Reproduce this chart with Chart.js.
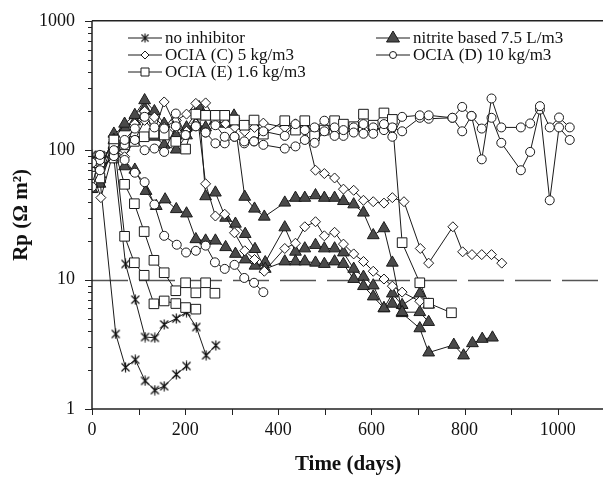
<!DOCTYPE html>
<html>
<head>
<meta charset="utf-8">
<script src="https://cdn.jsdelivr.net/npm/chart.js@4/dist/chart.umd.min.js"></script>
<style>
  html, body { margin: 0; padding: 0; overflow: hidden; background: #fff; }
</style>
</head>
<body>
<canvas id="rpchart" width="612" height="481"></canvas>
<script>
// axis ticks and the 10 ohm.m2 reference level
const xTicks = [0, 200, 400, 600, 800, 1000];
const yTicks = [1, 10, 100, 1000];
const limitRp = 10;

// [day, Rp], one array per specimen
const noInhibitor1 = [[0,92],[17,60],[51,3.8],[72,2.1],[93,2.4],[114,1.65],[135,1.4],[155,1.5],[181,1.85],[203,2.15]];
const noInhibitor2 = [[0,85],[17,75],[47,87],[72,13.2],[93,7.0],[114,3.6],[135,3.55],[155,4.5],[181,5.0],[203,5.6],[224,4.3],[245,2.6],[266,3.1]];

const nitrite1 = [[0,55],[17,60],[47,120],[70,160],[92,187],[113,243],[134,200],[155,160],[181,130],[203,150],[230,215],[244,44],[265,47],[287,30],[308,27],[329,22.5],[350,17.2],[372,12.1],[414,13.8],[437,13.8],[457,13.8],[480,13.5],[499,13.2],[521,13.8],[540,13.2],[562,10.1],[583,8.9],[604,7.4],[627,6.0],[645,6.5],[666,5.6],[704,5.6],[723,4.7]];
const nitrite2 = [[0,60],[17,65],[47,134],[70,150],[92,167],[113,210],[134,127],[155,110],[181,101],[203,130],[223,160],[244,150],[265,170],[287,160],[305,185],[328,43.6],[349,35.3],[370,30.6],[414,39.3],[437,42.8],[457,42.8],[480,44.8],[499,42.8],[521,42.8],[540,40.4],[562,38.1],[583,32.9],[604,22],[627,24.9],[645,13.5],[666,5.5],[704,4.2],[723,2.73],[777,3.13],[798,2.59],[817,3.22],[838,3.48],[860,3.56]];
const nitrite3 = [[0,50],[17,55],[47,110],[70,75],[92,70.6],[116,48.4],[138,37],[157,41.6],[181,35],[203,32.4],[223,20.5],[244,20],[265,20],[287,17.8],[308,15.8],[329,14.3],[350,12.8],[372,13.6],[414,25.3],[437,16.4],[457,17.4],[480,18.5],[499,17.4],[521,17.4],[540,16.2],[562,12.1],[583,10.5],[604,9.0],[627,6.0],[645,7.8],[666,6.35],[704,7.8],[723,6.4]];

const ociaC1 = [[0,70],[19,43],[47,100],[70,89],[92,120],[113,170],[134,140],[155,236],[181,150],[203,140],[223,160],[244,232],[265,170],[287,160],[307,150],[328,140],[349,150],[368,162],[414,150],[437,160],[457,155],[480,70],[499,66],[521,61],[540,50],[562,49],[583,41],[604,40],[627,39],[645,43],[670,40],[705,17.4],[723,13.4],[775,25.6],[796,16.4],[816,15.6],[837,15.6],[858,15.6],[880,13.4]];
const ociaC2 = [[0,80],[17,75],[47,120],[70,100],[92,160],[113,200],[134,180],[155,150],[181,170],[203,190],[223,230],[244,55],[265,31],[285,32],[306,23],[328,16.7],[349,14.3],[370,11.6],[414,17.4],[437,19.1],[457,25.6],[480,28],[499,21.8],[521,23.2],[540,18.8],[562,15.8],[583,13.8],[604,11.6],[627,10.1],[645,8.9],[666,8.0],[704,6.8]];

const ociaD1 = [[0,80],[17,92],[47,100],[70,120],[92,147],[113,181],[134,150],[155,147],[180,192],[201,131],[223,153],[244,137],[265,156],[285,127],[306,127],[327,117],[348,117],[368,140],[414,129],[437,159],[457,143],[478,150],[499,169],[521,129],[540,143],[562,137],[583,159],[604,134],[627,159],[645,127],[666,181],[704,186],[723,186],[774,178],[795,216],[815,184],[837,85],[858,251],[879,150],[921,150],[941,161],[962,219],[983,150],[1003,179],[1026,150]];
const ociaD2 = [[0,52],[17,70],[47,90],[70,110],[92,120],[113,100],[134,103],[155,97],[180,153],[201,131],[223,153],[244,137],[265,113],[285,113],[306,127],[327,113],[348,117],[368,110],[414,103],[437,107],[457,120],[478,114],[499,140],[521,150],[540,129],[562,150],[583,134],[604,150],[627,143],[645,150],[666,140],[704,178],[723,175],[774,178],[795,140],[815,184],[837,147],[858,178],[879,114],[921,70],[941,97],[962,206],[983,41],[1003,150],[1026,120]];
const ociaD3 = [[0,55],[17,84],[47,95],[70,84],[92,67],[113,56.6],[134,38],[155,21.8],[182,18.6],[202,16.2],[223,16.7],[244,18.3],[264,13.6],[285,12.1],[306,13.0],[327,10.3],[348,9.45],[368,8.0]];

const ociaE1 = [[0,80],[17,61],[47,103],[70,54.5],[91,38.6],[112,23.5],[133,14.1],[155,11.3],[180,8.2],[201,9.45],[223,7.9],[244,9.45],[264,7.85]];
const ociaE2 = [[0,63],[17,75],[47,120],[70,21.6],[91,13.5],[112,10.8],[133,6.5],[155,6.84],[180,6.53],[201,6.08],[223,5.91]];
const ociaE3 = [[0,70],[17,90],[47,87],[70,110],[91,117],[112,127],[133,135],[155,131],[180,117],[201,102],[223,190],[244,186],[265,186],[285,186],[306,171],[327,156],[348,171],[368,133],[414,169],[437,143],[457,169],[478,129],[499,143],[521,169],[540,159],[562,152],[583,190],[604,156],[627,194],[645,173],[666,19.3],[704,9.45],[723,6.57],[772,5.54]];

const labels = {
  none: 'no inhibitor',
  nitrite: 'nitrite based 7.5 L/m3',
  c: 'OCIA (C) 5 kg/m3',
  d: 'OCIA (D) 10 kg/m3',
  e: 'OCIA (E) 1.6 kg/m3'
};

// excel style "star" marker: an X with a vertical bar
function starMarker(size) {
  const c = document.createElement('canvas');
  c.width = c.height = size;
  const g = c.getContext('2d');
  const m = size / 2, r = size / 2 - 0.5;
  g.strokeStyle = '#111';
  g.lineWidth = 1.2;
  g.beginPath();
  g.moveTo(m, m - r); g.lineTo(m, m + r);
  g.moveTo(m - r * 0.8, m - r * 0.8); g.lineTo(m + r * 0.8, m + r * 0.8);
  g.moveTo(m + r * 0.8, m - r * 0.8); g.lineTo(m - r * 0.8, m + r * 0.8);
  g.stroke();
  return c;
}
const star = starMarker(11);

const ink = '#1a1a1a';
const marks = {
  none:    { pointStyle: star, pointRadius: 5, pointBackgroundColor: '#fff' },
  nitrite: { pointStyle: 'triangle', pointRadius: 6.8, pointBackgroundColor: '#4a4a4a' },
  c:       { pointStyle: 'rectRot', pointRadius: 5, pointBackgroundColor: '#fff' },
  d:       { pointStyle: 'circle', pointRadius: 4.5, pointBackgroundColor: '#fff' },
  e:       { pointStyle: 'rect', pointRadius: 6.8, pointBackgroundColor: '#fff' }
};

function line(pairs, kind) {
  return Object.assign({
    label: labels[kind],
    data: pairs.map(p => ({ x: p[0], y: p[1] })),
    borderColor: ink,
    borderWidth: 1,
    pointBorderColor: ink,
    pointBorderWidth: 1,
    tension: 0,
    fill: false
  }, marks[kind]);
}

const datasets = [
  line(ociaD1, 'd'), line(ociaD2, 'd'), line(ociaD3, 'd'),
  line(ociaE1, 'e'), line(ociaE2, 'e'), line(ociaE3, 'e'),
  line(ociaC1, 'c'), line(ociaC2, 'c'),
  line(nitrite1, 'nitrite'), line(nitrite2, 'nitrite'), line(nitrite3, 'nitrite'),
  line(noInhibitor1, 'none'), line(noInhibitor2, 'none')
];

// legend inside the frame, two columns
const legendRows = [
  { kind: 'none',    x: 128, y: 38 },
  { kind: 'nitrite', x: 376, y: 38 },
  { kind: 'c',       x: 128, y: 55 },
  { kind: 'd',       x: 376, y: 55 },
  { kind: 'e',       x: 128, y: 72 }
];

function legendMark(ctx, kind, x, y) {
  ctx.save();
  ctx.strokeStyle = ink;
  ctx.lineWidth = 1;
  ctx.beginPath();
  if (kind === 'none') {
    ctx.drawImage(star, x - 5, y - 5, 10, 10);
  } else if (kind === 'nitrite') {
    ctx.fillStyle = '#4a4a4a';
    ctx.moveTo(x, y - 7); ctx.lineTo(x + 6.5, y + 4); ctx.lineTo(x - 6.5, y + 4); ctx.closePath();
    ctx.fill(); ctx.stroke();
  } else if (kind === 'c') {
    ctx.fillStyle = '#fff';
    ctx.moveTo(x, y - 4); ctx.lineTo(x + 4, y); ctx.lineTo(x, y + 4); ctx.lineTo(x - 4, y); ctx.closePath();
    ctx.fill(); ctx.stroke();
  } else if (kind === 'd') {
    ctx.fillStyle = '#fff';
    ctx.arc(x, y, 3.5, 0, Math.PI * 2);
    ctx.fill(); ctx.stroke();
  } else {
    ctx.fillStyle = '#fff';
    ctx.rect(x - 4, y - 4, 8, 8);
    ctx.fill(); ctx.stroke();
  }
  ctx.restore();
}

const frame = {
  id: 'frame',
  beforeDatasetsDraw(chart) {
    const { ctx, chartArea: a, scales: { y } } = chart;
    const py = Math.round(y.getPixelForValue(limitRp)) + 0.5;
    ctx.save();
    ctx.strokeStyle = '#555';
    ctx.lineWidth = 1.3;
    ctx.setLineDash([36, 11]);
    ctx.beginPath();
    ctx.moveTo(a.left, py); ctx.lineTo(a.right, py);
    ctx.stroke();
    ctx.restore();
  },
  afterDraw(chart) {
    const { ctx, chartArea: a, scales: { x, y } } = chart;
    ctx.save();
    ctx.strokeStyle = '#222';
    ctx.lineWidth = 1.5;
    ctx.beginPath();
    ctx.moveTo(a.left, a.top); ctx.lineTo(a.right, a.top);
    ctx.moveTo(a.left, a.top); ctx.lineTo(a.left, a.bottom);
    ctx.moveTo(a.left, a.bottom); ctx.lineTo(a.right, a.bottom);
    ctx.stroke();

    ctx.lineWidth = 1;
    ctx.beginPath();
    // x ticks every 100 days
    for (let d = 0; d <= 1100; d += 100) {
      const px = Math.round(x.getPixelForValue(d)) + 0.5;
      ctx.moveTo(px, a.bottom); ctx.lineTo(px, a.bottom + 6);
    }
    // y ticks, decades long, in-between short
    for (let dec = 1; dec < 1000; dec *= 10) {
      for (let k = 1; k <= 10; k++) {
        const py = Math.round(y.getPixelForValue(dec * k)) + 0.5;
        ctx.moveTo(a.left, py); ctx.lineTo(a.left - (k === 1 || k === 10 ? 7 : 4), py);
      }
    }
    ctx.stroke();

    // legend
    ctx.font = '17px "Liberation Serif"';
    ctx.fillStyle = '#111';
    ctx.textBaseline = 'middle';
    legendRows.forEach(r => {
      ctx.beginPath();
      ctx.lineWidth = 1;
      ctx.strokeStyle = ink;
      ctx.moveTo(r.x, r.y); ctx.lineTo(r.x + 34, r.y);
      ctx.stroke();
      legendMark(ctx, r.kind, r.x + 17, r.y);
      ctx.fillText(labels[r.kind], r.x + 37, r.y + 1);
    });
    ctx.restore();
  }
};

new Chart(document.getElementById('rpchart'), {
  type: 'line',
  data: { datasets },
  options: {
    responsive: false,
    animation: false,
    events: [],
    layout: { padding: { top: 16, right: 5, bottom: 0, left: 0 } },
    plugins: { legend: { display: false }, tooltip: { enabled: false } },
    scales: {
      x: {
        type: 'linear',
        min: 0,
        max: 1100,
        afterBuildTicks: s => { s.ticks = xTicks.map(v => ({ value: v })); },
        afterFit: s => { s.height = 72; },
        grid: { display: false, drawTicks: true, tickLength: 6 },
        border: { display: false },
        ticks: {
          padding: 4, maxRotation: 0, color: '#111',
          font: { family: 'Liberation Serif', size: 18 },
          callback: v => String(v)
        },
        title: {
          display: true, text: 'Time (days)', color: '#111',
          font: { family: 'Liberation Serif', size: 21, weight: 'bold' },
          padding: { top: 0, bottom: 4 }
        }
      },
      y: {
        type: 'logarithmic',
        min: 1,
        max: 1000,
        afterBuildTicks: s => { s.ticks = yTicks.map(v => ({ value: v })); },
        afterFit: s => { s.width = 92; },
        grid: { display: false, drawTicks: true, tickLength: 7 },
        border: { display: false },
        ticks: {
          padding: 10, color: '#111',
          font: { family: 'Liberation Serif', size: 18 },
          callback: v => String(v)
        },
        title: {
          display: true, text: 'Rp (Ω m²)', color: '#111',
          font: { family: 'Liberation Serif', size: 21, weight: 'bold' },
          padding: { top: 9, bottom: 0 }
        }
      }
    }
  },
  plugins: [frame]
});
</script>
</body>
</html>
